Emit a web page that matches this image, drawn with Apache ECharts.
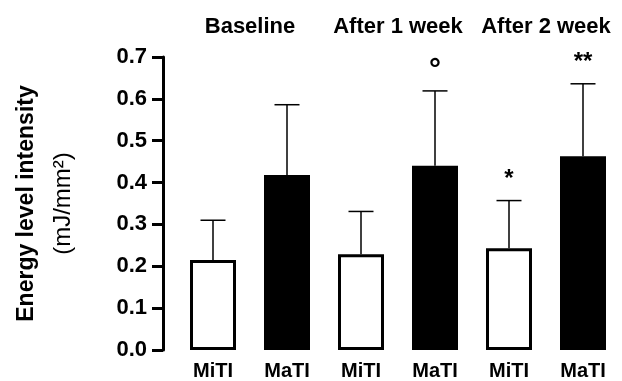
<!DOCTYPE html>
<html>
<head>
<meta charset="UTF-8">
<title>Energy level intensity</title>
<style type="text/css">
html, body {
	width: 100%;
	height: 100%;
	padding: 0px;
	margin: 0px;
	background: #fff;
}
</style>
<script src="https://cdn.jsdelivr.net/npm/echarts@6/dist/echarts.min.js"></script>
</head>
<body>
	<div id="chart" style="width: 622px; height: 381px;"></div>

	<script type="text/javascript">
        // data
        var groups = ['Baseline', 'After 1 week', 'After 2 week'];
        var categories = ['MiTI', 'MaTI', 'MiTI', 'MaTI', 'MiTI', 'MaTI'];
        var means = [0.215, 0.418, 0.229, 0.440, 0.243, 0.463];
        var errors = [0.095, 0.168, 0.102, 0.179, 0.114, 0.173];
        var marks = ['', '', '', '°', '*', '**'];

        var FONT = 'Liberation Sans, Arial, sans-serif';

        var myChart = echarts.init(document.getElementById('chart'));

        // MiTI = open bars, MaTI = filled bars
        var barData = means.map(function (v, i) {
            var filled = categories[i] === 'MaTI';
            return {
                value: v,
                itemStyle: {
                    color: filled ? '#000' : '#fff',
                    borderColor: '#000',
                    borderWidth: 3
                }
            };
        });

        var errData = means.map(function (v, i) {
            return [i, v, v + errors[i]];
        });

        // error bar (upper only) + significance mark
        function renderError(params, api) {
            var x = api.value(0);
            var base = api.coord([x, api.value(1)]);
            var top = api.coord([x, api.value(2)]);
            var cap = 12.5;
            var lineStyle = { stroke: '#000', lineWidth: 1.5 };
            var children = [
                { type: 'line', shape: { x1: base[0], y1: base[1], x2: top[0], y2: top[1] }, style: lineStyle },
                { type: 'line', shape: { x1: top[0] - cap, y1: top[1], x2: top[0] + cap, y2: top[1] }, style: lineStyle }
            ];
            var mark = marks[params.dataIndex];
            if (mark) {
                var degree = mark === '°';
                children.push({
                    type: 'text',
                    x: top[0],
                    y: top[1] - (degree ? 20 : 21),
                    style: {
                        text: mark,
                        fill: '#000',
                        font: 'bold ' + (degree ? 30 : 24) + 'px ' + FONT,
                        align: 'center',
                        verticalAlign: 'middle'
                    }
                });
            }
            return { type: 'group', children: children };
        }

        var option = {
            animation: false,
            backgroundColor: '#fff',
            grid: { left: 176, right: 2, top: 57, bottom: 28 },
            xAxis: [{
                type: 'category',
                data: categories,
                axisLine: { show: false },
                axisTick: { show: false },
                axisLabel: {
                    interval: 0,
                    color: '#000',
                    fontFamily: FONT,
                    fontWeight: 'bold',
                    fontSize: 20,
                    margin: 11
                }
            }, {
                type: 'category',
                position: 'top',
                data: groups,
                axisLine: { show: false },
                axisTick: { show: false },
                axisLabel: {
                    interval: 0,
                    color: '#000',
                    fontFamily: FONT,
                    fontWeight: 'bold',
                    fontSize: 22,
                    margin: 19
                }
            }],
            yAxis: {
                type: 'value',
                min: 0,
                max: 0.7,
                interval: 0.1,
                offset: 13,
                name: '{a|Energy level intensity}\n{b|(mJ/mm²)}',
                nameLocation: 'middle',
                nameRotate: 90,
                nameGap: 81,
                nameTextStyle: {
                    align: 'center',
                    rich: {
                        a: { fontFamily: FONT, fontWeight: 'bold', fontSize: 23, color: '#000', lineHeight: 37, align: 'center' },
                        b: { fontFamily: FONT, fontSize: 24, color: '#000', lineHeight: 37, align: 'center' }
                    }
                },
                axisLine: { show: true, lineStyle: { color: '#000', width: 3 } },
                axisTick: { show: true, length: 11, lineStyle: { color: '#000', width: 3 } },
                splitLine: { show: false },
                axisLabel: {
                    color: '#000',
                    fontFamily: FONT,
                    fontWeight: 'bold',
                    fontSize: 22,
                    margin: 16,
                    formatter: function (v) { return v.toFixed(1); }
                }
            },
            series: [{
                type: 'bar',
                data: barData,
                barWidth: 46,
                z: 2
            }, {
                type: 'custom',
                renderItem: renderError,
                data: errData,
                z: 3
            }]
        };

        myChart.setOption(option);
	</script>
</body>
</html>
